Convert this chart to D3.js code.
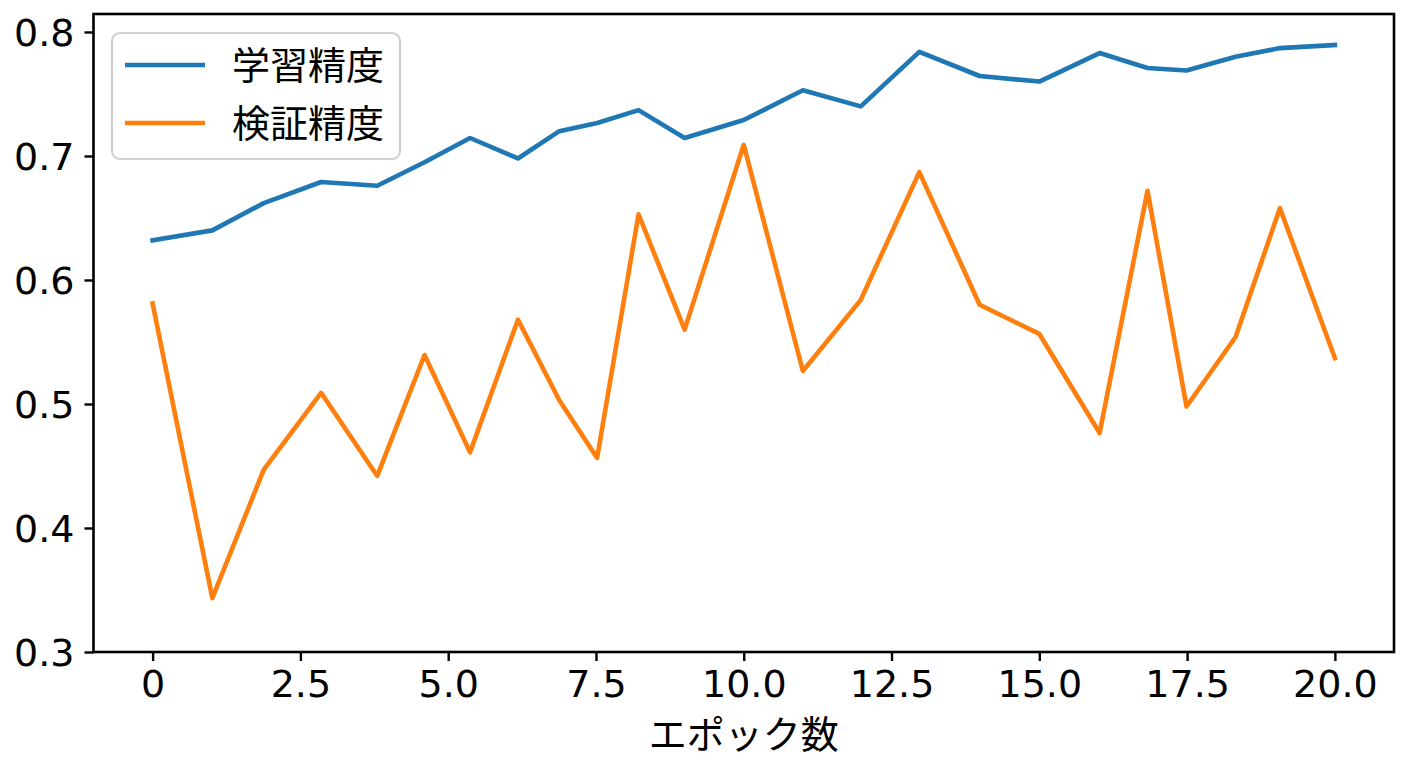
<!DOCTYPE html>
<html>
<head>
<meta charset="utf-8">
<script src="https://cdn.jsdelivr.net/npm/d3@7"></script>
<style>
  html, body { margin: 0; padding: 0; background: #fff; }
  svg { display: block; }
  text { font-family: "DejaVu Sans", "Noto Sans CJK JP", sans-serif; }
</style>
</head>
<body>
<svg id="chart" width="1408" height="768"></svg>
<script>
// ---- data ----
const epochs = [0, 1.01, 1.88, 2.85, 3.80, 4.60, 5.37, 6.18, 6.88, 7.52, 8.22, 9.0,
                10.0, 11.0, 11.98, 12.97, 13.99, 15.0, 16.02, 16.83, 17.49, 18.32, 19.07, 20.0];
const trainAcc = [0.632, 0.640, 0.662, 0.679, 0.676, 0.695, 0.7145, 0.698, 0.720, 0.7266, 0.737, 0.7145,
                  0.729, 0.753, 0.740, 0.784, 0.7645, 0.760, 0.783, 0.771, 0.769, 0.780, 0.787, 0.7895];
const valAcc = [0.581, 0.3435, 0.447, 0.509, 0.442, 0.5395, 0.461, 0.568, 0.503, 0.4565, 0.653, 0.560,
                0.709, 0.5266, 0.584, 0.687, 0.580, 0.5565, 0.4766, 0.672, 0.498, 0.554, 0.658, 0.537];
const xTicks = [0, 2.5, 5.0, 7.5, 10.0, 12.5, 15.0, 17.5, 20.0];
const xTickLabels = ["0", "2.5", "5.0", "7.5", "10.0", "12.5", "15.0", "17.5", "20.0"];
const yTicks = [0.3, 0.4, 0.5, 0.6, 0.7, 0.8];
const yTickLabels = ["0.3", "0.4", "0.5", "0.6", "0.7", "0.8"];
const seriesNames = ["学習精度", "検証精度"];
const seriesColors = ["#1f77b4", "#ff7f0e"];
const xLabel = "エポック数";

// ---- layout ----
const L = 93.5, R = 1394, T = 14, B = 652;
const svg = d3.select("#chart");
const x = d3.scaleLinear().domain([-1, 21]).range([L, R]);
const y = d3.scaleLinear().domain([0.3, 0.8145]).range([B, T]);

// lines
const series = [trainAcc, valAcc];
const line = d3.line().x((d, i) => x(epochs[i])).y(d => y(d));
series.forEach((s, k) => {
  svg.append("path")
    .datum(s)
    .attr("fill", "none")
    .attr("stroke", seriesColors[k])
    .attr("stroke-width", 4.6)
    .attr("stroke-linejoin", "round")
    .attr("stroke-linecap", "square")
    .attr("d", line);
});

// axes
const fontSize = 38;
const xAxis = d3.axisBottom(x).tickValues(xTicks)
  .tickFormat((d, i) => xTickLabels[i]).tickSize(9).tickPadding(9);
const gx = svg.append("g").attr("transform", `translate(0,${B})`).call(xAxis);
const yAxis = d3.axisLeft(y).tickValues(yTicks)
  .tickFormat((d, i) => yTickLabels[i]).tickSize(9).tickPadding(10);
const gy = svg.append("g").attr("transform", `translate(${L},0)`).call(yAxis);
[gx, gy].forEach(g => {
  g.select(".domain").remove();
  g.selectAll(".tick line").attr("stroke", "#000").attr("stroke-width", 2.4);
  g.selectAll(".tick text").attr("fill", "#000").style("font-size", fontSize + "px");
});
gy.selectAll(".tick text").attr("dy", "0.36em");

// frame
svg.append("rect").attr("x", L).attr("y", T).attr("width", R - L).attr("height", B - T)
  .attr("fill", "none").attr("stroke", "#000").attr("stroke-width", 2.6);

// x label
svg.append("text").attr("x", (L + R) / 2).attr("y", 748)
  .attr("text-anchor", "middle").style("font-size", "38px").attr("fill", "#000")
  .text(xLabel);

// legend
const lg = svg.append("g");
lg.append("rect").attr("x", 112).attr("y", 33).attr("width", 288).attr("height", 126)
  .attr("rx", 8).attr("ry", 8)
  .attr("fill", "#fff").attr("fill-opacity", 0.8)
  .attr("stroke", "#d0d0d0").attr("stroke-width", 2.2);
seriesNames.forEach((n, k) => {
  const yy = 65 + k * 58;
  lg.append("line").attr("x1", 125).attr("x2", 205).attr("y1", yy).attr("y2", yy)
    .attr("stroke", seriesColors[k]).attr("stroke-width", 4.6);
  lg.append("text").attr("x", 232).attr("y", yy).attr("dy", "0.36em")
    .style("font-size", "38px").attr("fill", "#000").text(n);
});
</script>
</body>
</html>
